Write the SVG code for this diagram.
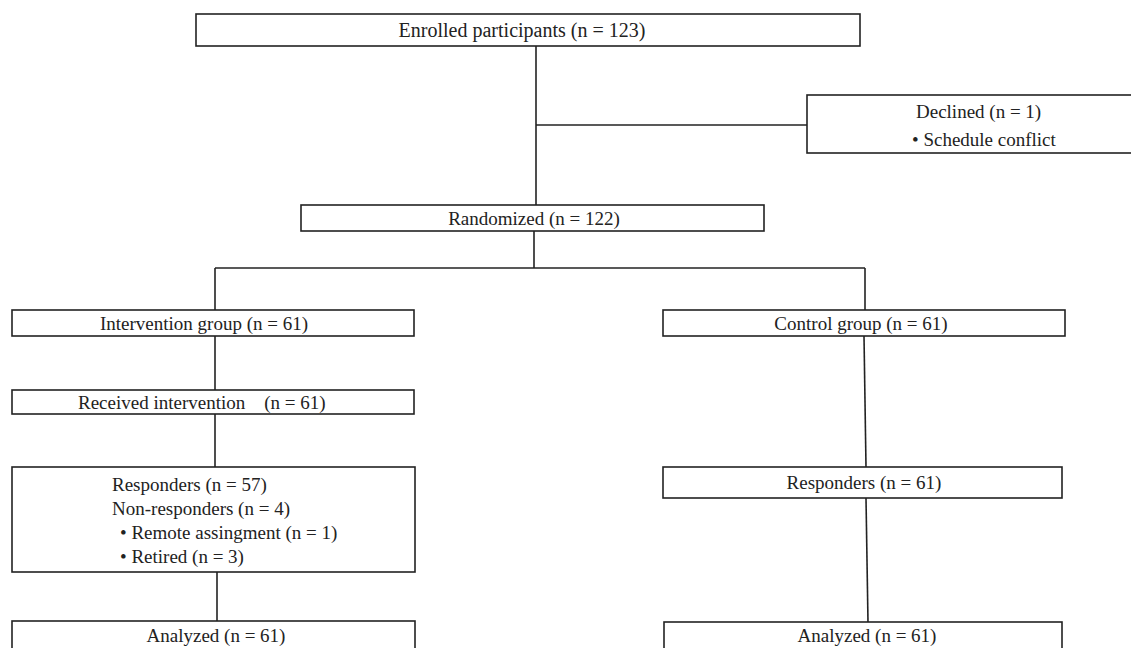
<svg xmlns="http://www.w3.org/2000/svg" width="1131" height="648" viewBox="0 0 1131 648">
<style>
.box{fill:#fff;stroke:#222;stroke-width:1.6}
.ln{fill:none;stroke:#222;stroke-width:1.6}
text{font-family:"Liberation Serif","Times New Roman",serif;font-size:19px;fill:#222}
.c{text-anchor:middle}
</style>
<rect width="1131" height="648" fill="#fff"/>
<g id="connectors">
<path class="ln" d="M536 46V205"/>
<path class="ln" d="M536 125H807"/>
<path class="ln" d="M534 231V268"/>
<path class="ln" d="M215 268H865"/>
<path class="ln" d="M215 268V310"/>
<path class="ln" d="M865 268V310"/>
<path class="ln" d="M215 336V390"/>
<path class="ln" d="M215 414V467"/>
<path class="ln" d="M217 572V621"/>
<path class="ln" d="M864 336L866 467"/>
<path class="ln" d="M866 498L868 622"/>
</g>
<g id="enrolled"><rect class="box" x="196" y="14" width="664" height="32"/><text class="c" x="522" y="37" style="font-size:20px">Enrolled participants (n = 123)</text></g>
<g id="declined"><rect class="box" x="807" y="95" width="330" height="58"/><text x="916" y="118">Declined (n = 1)</text><text x="912" y="146">• Schedule conflict</text></g>
<g id="randomized"><rect class="box" x="301" y="205" width="463" height="26"/><text class="c" x="534" y="225">Randomized (n = 122)</text></g>
<g id="intervention"><rect class="box" x="12" y="310" width="402" height="26"/><text class="c" x="204" y="330">Intervention group (n = 61)</text></g>
<g id="control"><rect class="box" x="663" y="310" width="402" height="26"/><text class="c" x="861" y="330">Control group (n = 61)</text></g>
<g id="received"><rect class="box" x="12" y="390" width="402" height="24"/><text x="78" y="409" xml:space="preserve">Received intervention    (n = 61)</text></g>
<g id="responders-left"><rect class="box" x="12" y="467" width="403" height="105"/>
<text x="112" y="491">Responders (n = 57)</text>
<text x="112" y="515">Non-responders (n = 4)</text>
<text x="120" y="539">• Remote assingment (n = 1)</text>
<text x="120" y="563">• Retired (n = 3)</text></g>
<g id="responders-right"><rect class="box" x="663" y="467" width="399" height="31"/><text class="c" x="864" y="489">Responders (n = 61)</text></g>
<g id="analyzed-left"><rect class="box" x="12" y="621" width="403" height="40"/><text class="c" x="216" y="642">Analyzed (n = 61)</text></g>
<g id="analyzed-right"><rect class="box" x="664" y="622" width="398" height="40"/><text class="c" x="867" y="642">Analyzed (n = 61)</text></g>
</svg>
